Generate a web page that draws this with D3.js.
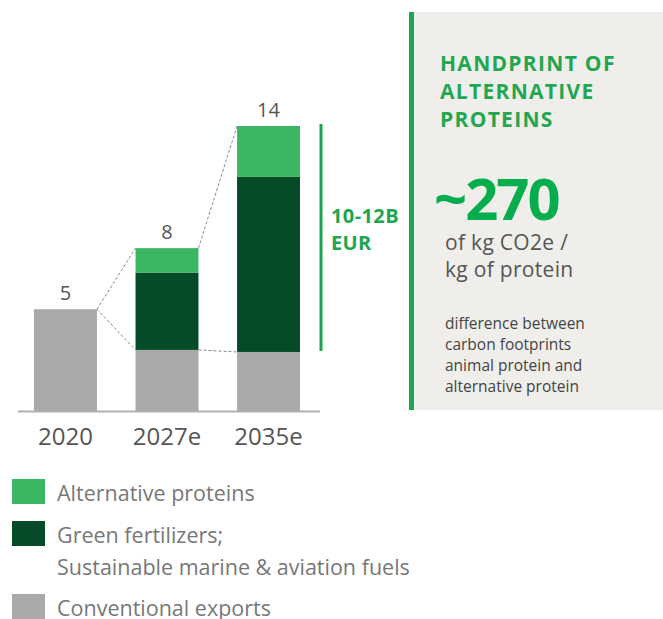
<!DOCTYPE html>
<html lang="en">
<head>
<meta charset="utf-8">
<title>Handprint of alternative proteins</title>
<script src="https://d3js.org/d3.v7.min.js"></script>
<style>
  body { margin: 0; background: #fff; }
  svg text { font-family: "Open Sans", "Noto Sans", sans-serif; }
</style>
</head>
<body>
<script>
// chart data
var categories = ["2020", "2027e", "2035e"];
var conventional = [5, 3, 2.9];
var fertilizers = [0, 3.8, 8.6];
var alternative = [0, 1.2, 2.5];
var totals = [5, 8, 14];

var seriesKeys = ["conventional", "fertilizers", "alternative"];
var seriesNames = ["Alternative proteins", "Green fertilizers;|Sustainable marine & aviation fuels", "Conventional exports"];
var colors = { conventional: "#a8a9ab", fertilizers: "#054b27", alternative: "#3bb763" };

var w = 663, h = 619;
var svg = d3.select("body").append("svg").attr("width", w).attr("height", h);

var rows = categories.map(function(c, i) {
  return { cat: c, conventional: conventional[i], fertilizers: fertilizers[i], alternative: alternative[i] };
});
var stacked = d3.stack().keys(seriesKeys)(rows);

var x = d3.scaleBand().domain(categories).range([34, 300]).paddingInner(0.38).paddingOuter(0);
var y = d3.scaleLinear().domain([0, 14]).range([411, 126]);

// bars
svg.selectAll("g.layer")
  .data(stacked)
  .enter().append("g")
  .attr("class", "layer")
  .attr("fill", function(d) { return colors[d.key]; })
  .selectAll("rect")
  .data(function(d) { return d; })
  .enter().append("rect")
  .attr("x", function(d) { return x(d.data.cat); })
  .attr("y", function(d) { return y(d[1]); })
  .attr("width", x.bandwidth())
  .attr("height", function(d) { return y(d[0]) - y(d[1]); });

// dashed connectors between bars
var links = [];
for (var i = 0; i < categories.length - 1; i++) {
  var x1 = x(categories[i]) + x.bandwidth(), x2 = x(categories[i + 1]);
  links.push([x1, y(totals[i]), x2, y(totals[i + 1])]);
  links.push([x1, y(conventional[i]), x2, y(conventional[i + 1])]);
}
svg.selectAll("line.link")
  .data(links)
  .enter().append("line")
  .attr("class", "link")
  .attr("x1", function(d) { return d[0]; })
  .attr("y1", function(d) { return d[1]; })
  .attr("x2", function(d) { return d[2]; })
  .attr("y2", function(d) { return d[3]; })
  .attr("stroke", "#8a8a8a")
  .attr("stroke-width", 1)
  .attr("stroke-dasharray", "3,2");

// baseline axis (domain line runs a bit past the bars)
var axis = svg.append("g")
  .attr("transform", "translate(0," + y(0) + ")")
  .call(d3.axisBottom(x).tickSize(0).tickPadding(17));
axis.select(".domain").attr("d", "M18,0.5H320").attr("stroke", "#b0b0b0").attr("stroke-width", 2);
axis.selectAll("text")
  .attr("font-size", 24)
  .attr("fill", "#555")
  .style("font-family", "'Open Sans', sans-serif");

// totals
svg.selectAll("text.total")
  .data(totals)
  .enter().append("text")
  .attr("class", "total")
  .attr("x", function(d, i) { return x(categories[i]) + x.bandwidth() / 2; })
  .attr("y", function(d) { return y(d) - 9; })
  .attr("text-anchor", "middle")
  .attr("font-size", 20)
  .attr("fill", "#555")
  .text(function(d) { return d; });

// green bracket for new business
svg.append("line")
  .attr("x1", 321).attr("x2", 321)
  .attr("y1", y(totals[2]) - 2).attr("y2", y(conventional[2]) - 1)
  .attr("stroke", "#1aa34a").attr("stroke-width", 3);
svg.append("text").attr("x", 331).attr("y", 223)
  .attr("font-size", 20).attr("font-weight", "bold").attr("fill", "#1ea54f")
  .attr("letter-spacing", 0.4)
  .text("10-12B");
svg.append("text").attr("x", 331).attr("y", 250)
  .attr("font-size", 20).attr("font-weight", "bold").attr("fill", "#1ea54f")
  .attr("letter-spacing", 0.4)
  .text("EUR");

// handprint panel
svg.append("rect").attr("x", 410).attr("y", 12).attr("width", 253).attr("height", 398).attr("fill", "#efeeeb");
svg.append("rect").attr("x", 409).attr("y", 12).attr("width", 5).attr("height", 398).attr("fill", "#1ea54f");

var title = ["HANDPRINT OF", "ALTERNATIVE", "PROTEINS"];
svg.selectAll("text.title").data(title).enter().append("text")
  .attr("class", "title")
  .attr("x", 440).attr("y", function(d, i) { return 71 + i * 28; })
  .attr("font-size", 21).attr("font-weight", "bold").attr("fill", "#22a750")
  .attr("letter-spacing", 1.3)
  .text(function(d) { return d; });

svg.append("text").attr("x", 434).attr("y", 220)
  .attr("font-size", 58).attr("font-weight", "bold").attr("fill", "#06ad4c")
  .attr("letter-spacing", -2)
  .text("~270");

["of kg CO2e /", "kg of protein"].forEach(function(t, i) {
  svg.append("text").attr("x", 445).attr("y", 250 + i * 27)
    .attr("font-size", 21).attr("fill", "#555").attr("letter-spacing", 0.3).text(t);
});

["difference between", "carbon footprints", "animal protein and", "alternative protein"].forEach(function(t, i) {
  svg.append("text").attr("x", 445).attr("y", 329 + i * 21)
    .attr("font-size", 15.5).attr("fill", "#444").text(t);
});

// legend
var legendKeys = ["alternative", "fertilizers", "conventional"];
var legendTop = [479, 521, 594];
var legend = svg.selectAll("g.legend")
  .data(legendKeys)
  .enter().append("g")
  .attr("class", "legend")
  .attr("transform", function(d, i) { return "translate(12," + legendTop[i] + ")"; });
legend.append("rect")
  .attr("width", 33).attr("height", 25)
  .attr("fill", function(d) { return colors[d]; });
legend.each(function(d, i) {
  var lines = seriesNames[i].split("|");
  var g = d3.select(this);
  lines.forEach(function(t, j) {
    g.append("text").attr("x", 45).attr("y", 22 + j * 32)
      .attr("font-size", 21.5).attr("fill", "#777").text(t);
  });
});
</script>
</body>
</html>
